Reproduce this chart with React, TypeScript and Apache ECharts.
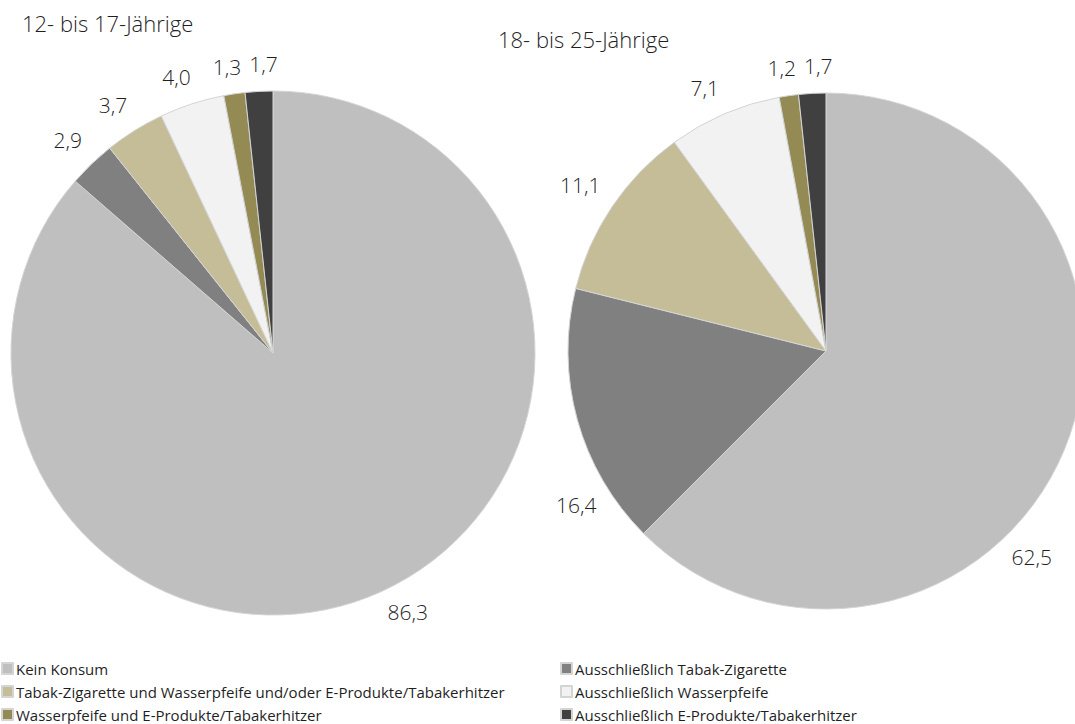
import React, { useEffect, useRef } from 'react';
import * as echarts from 'echarts';

const categories = [
  'Kein Konsum',
  'Ausschließlich Tabak-Zigarette',
  'Tabak-Zigarette und Wasserpfeife und/oder E-Produkte/Tabakerhitzer',
  'Ausschließlich Wasserpfeife',
  'Wasserpfeife und E-Produkte/Tabakerhitzer',
  'Ausschließlich E-Produkte/Tabakerhitzer',
];
const sliceColors = ['#BFBFBF', '#808080', '#C4BD97', '#F2F2F2', '#948A54', '#404040'];
const values12to17 = [86.3, 2.9, 3.7, 4.0, 1.3, 1.7];
const values18to25 = [62.5, 16.4, 11.1, 7.1, 1.2, 1.7];
const groupTitles = ['12- bis 17-Jährige', '18- bis 25-Jährige'];
const leftLegendItems = [categories[0], categories[2], categories[4]];
const rightLegendItems = [categories[1], categories[3], categories[5]];

const W = 1075;
const H = 724;
const LABEL_GAP = 14;
const LABEL_Y_SHIFT = -3;
const MIN_LABEL_SPACING = 8;
const FONT = "'Open Sans', 'Noto Sans', sans-serif";
const TEXT_COLOR = '#1f1f1f';

function fmt(v: number) {
  return v.toFixed(1).replace('.', ',');
}

function makeLayout(values: number[], cx: number, cy: number, r: number, minX: number, maxX: number) {
  const total = values.reduce((a, b) => a + b, 0);
  let placed: { x0: number; x1: number; y0: number; y1: number }[] = [];
  return (params: any) => {
    if (params.dataIndex === 0) placed = [];
    const w = params.labelRect.width;
    const h = params.labelRect.height;
    let theta: number;
    const pts = params.labelLinePoints;
    if (pts && pts.length >= 2 && (pts[1][0] !== pts[0][0] || pts[1][1] !== pts[0][1])) {
      theta = Math.atan2(pts[1][0] - pts[0][0], -(pts[1][1] - pts[0][1]));
    } else {
      let cum = 0;
      for (let i = 0; i < params.dataIndex; i++) cum += values[i];
      theta = ((cum + values[params.dataIndex] / 2) / total) * 2 * Math.PI;
    }
    const place = (t: number) => {
      const dx = Math.sin(t);
      const dy = -Math.cos(t);
      const sx = Math.max(-1, Math.min(1, dx * 2.5));
      const sy = Math.max(-1, Math.min(1, dy * 2.5));
      return [cx + (r + LABEL_GAP) * dx + (sx * w) / 2, cy + (r + LABEL_GAP) * dy + (sy * h) / 2 + LABEL_Y_SHIFT];
    };
    let p = place(theta);
    const dx0 = Math.sin(theta);
    const dy0 = -Math.cos(theta);
    const step = (dy0 > 0 ? (dx0 > 0 ? 1 : -1) : dx0 > 0 ? -1 : 1) * (Math.PI / 360);
    let n = 0;
    while ((p[0] - w / 2 < minX || p[0] + w / 2 > maxX) && n < 360) {
      theta += step;
      p = place(theta);
      n++;
    }
    // push apart from previously placed labels of this pie (horizontally)
    for (const q of placed) {
      const y0 = p[1] - h / 2;
      const y1 = p[1] + h / 2;
      const x0 = p[0] - w / 2;
      const x1 = p[0] + w / 2;
      if (y1 > q.y0 && y0 < q.y1 && x1 + MIN_LABEL_SPACING > q.x0 && x0 < q.x1 + MIN_LABEL_SPACING) {
        if (p[0] >= (q.x0 + q.x1) / 2 || Math.abs(dx0) < 0.2) {
          p = [q.x1 + MIN_LABEL_SPACING + w / 2, p[1]];
        }
      }
    }
    placed.push({ x0: p[0] - w / 2, x1: p[0] + w / 2, y0: p[1] - h / 2, y1: p[1] + h / 2 });
    return { x: p[0], y: p[1], align: 'center', verticalAlign: 'middle' };
  };
}

function pieSeries(name: string, values: number[], cx: number, cy: number, r: number, minX: number, maxX: number) {
  return {
    type: 'pie',
    name,
    center: [cx, cy],
    radius: r,
    startAngle: 90,
    clockwise: true,
    avoidLabelOverlap: false,
    silent: true,
    emphasis: { disabled: true },
    itemStyle: { borderColor: '#d4d4d4', borderWidth: 1 },
    label: {
      show: true,
      position: 'outside',
      formatter: (p: any) => fmt(p.value),
      fontFamily: FONT,
      fontSize: 21,
      fontWeight: 300,
      color: TEXT_COLOR,
    },
    labelLine: { show: true, length: 10, length2: 0, lineStyle: { opacity: 0, width: 0 } },
    labelLayout: makeLayout(values, cx, cy, r, minX, maxX),
    data: values.map((v, i) => ({ name: categories[i], value: v, itemStyle: { color: sliceColors[i] } })),
  };
}

export default function App() {
  const ref = useRef<HTMLDivElement>(null);
  useEffect(() => {
    if (!ref.current) return;
    const chart = echarts.init(ref.current, undefined, { renderer: 'svg', width: W, height: H });
    const legendCommon = {
      orient: 'vertical',
      icon: 'rect',
      itemWidth: 11,
      itemHeight: 11,
      itemGap: 8,
      top: 661,
      height: 80,
      padding: 0,
      selectedMode: false,
      textStyle: { fontFamily: FONT, fontSize: 15, color: TEXT_COLOR, padding: [0, 0, 0, -2] },
    };
    const titleStyle = { fontFamily: FONT, fontSize: 22, fontWeight: 300, color: TEXT_COLOR };
    chart.setOption({
      animation: false,
      backgroundColor: '#ffffff',
      title: [
        { text: groupTitles[0], left: 22, top: 12, padding: 0, textStyle: titleStyle },
        { text: groupTitles[1], left: 498, top: 28, padding: 0, textStyle: titleStyle },
      ],
      legend: [
        { ...legendCommon, left: 1, data: leftLegendItems },
        { ...legendCommon, left: 560, data: rightLegendItems },
      ],
      series: [
        pieSeries(groupTitles[0], values12to17, 273, 353, 262, 2, 545),
        pieSeries(groupTitles[1], values18to25, 826, 351, 258, 556, 1052),
      ],
    });
    return () => chart.dispose();
  }, []);
  return <div ref={ref} style={{ position: 'fixed', left: 0, top: 0, width: W, height: H }} />;
}
